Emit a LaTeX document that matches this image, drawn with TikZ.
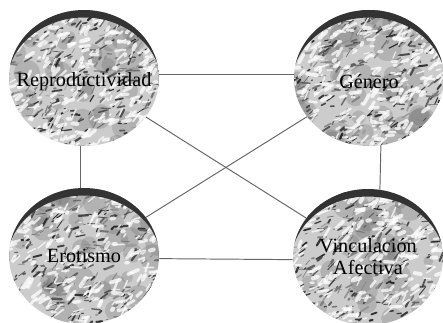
\documentclass[tikz,border=0pt]{standalone}
\usepackage{fontspec}
\setmainfont{Liberation Serif}
\usetikzlibrary{shapes.geometric}

% stone-like grain inside each ball
\newcommand{\stonegrain}{%
  \foreach \k in {1,...,40}{%
    \pgfmathsetmacro{\px}{1.5*rand}%
    \pgfmathsetmacro{\py}{1.35*rand}%
    \pgfmathsetmacro{\rr}{0.1+0.2*rnd}%
    \fill[black!60, opacity=0.25]
      ([shift={(\px cm,\py cm)}]path picture bounding box.center) circle (\rr cm);
  }%
  \foreach \k in {1,...,340}{%
    \pgfmathsetmacro{\px}{1.6*rand}%
    \pgfmathsetmacro{\py}{1.45*rand}%
    \pgfmathsetmacro{\ang}{30+40*rand}%
    \pgfmathsetmacro{\len}{0.03+0.17*rnd}%
    \pgfmathsetmacro{\shd}{int(40+55*rnd)}%
    \pgfmathsetmacro{\lw}{0.3+1.0*rnd}%
    \draw[black!\shd, line width=\lw pt, line cap=round, opacity=0.85]
      ([shift={(\px cm,\py cm)}]path picture bounding box.center) -- ++(\ang:\len cm);
  }%
  \foreach \k in {1,...,280}{%
    \pgfmathsetmacro{\px}{1.6*rand}%
    \pgfmathsetmacro{\py}{1.45*rand}%
    \pgfmathsetmacro{\ang}{30+40*rand}%
    \pgfmathsetmacro{\len}{0.03+0.2*rnd}%
    \pgfmathsetmacro{\lw}{0.6+1.8*rnd}%
    \draw[white, line width=\lw pt, line cap=round, opacity=0.75]
      ([shift={(\px cm,\py cm)}]path picture bounding box.center) -- ++(\ang:\len cm);
  }%
  \fill[black!80, even odd rule]
    (path picture bounding box.south west) rectangle (path picture bounding box.north east)
    ([yshift=-0.12cm]path picture bounding box.center) ellipse (1.54cm and 1.33cm);
}

\tikzset{
  ball/.style={ellipse, minimum width=3.0cm, minimum height=2.72cm, inner sep=0pt,
    fill=gray!40, path picture={\stonegrain}},
  tag/.style={align=center, font=\fontsize{11.5}{12.5}\selectfont},
  link/.style={draw=black!60, line width=0.55pt}
}

\begin{document}
\begin{tikzpicture}[x=0.02cm, y=-0.02cm]

\useasboundingbox[fill=white] (0,0) rectangle (443,322);

\pgfmathsetseed{11}
\node[ball, label={[tag, yshift=-0.08cm]center:Reproductividad}] (rep) at (84,78) {};
\pgfmathsetseed{23}
\node[ball, label={[tag, yshift=-0.08cm]center:Género}] (gen) at (369,78) {};
\pgfmathsetseed{37}
\node[ball, label={[tag]center:Erotismo}] (ero) at (84,256) {};
\pgfmathsetseed{51}
\node[ball, label={[tag]center:Vinculación\\Afectiva}] (vin) at (368,257) {};

% links between the four dimensions
\draw[link] (rep.3) -- (gen.177);
\draw[link] (ero.-2) -- (vin.182);
\draw[link] (rep.-93) -- (ero.93);
\draw[link] (gen.-80) -- (vin.80);
\draw[link] (rep) -- (vin);
\draw[link] (gen) -- (ero);

\end{tikzpicture}
\end{document}
